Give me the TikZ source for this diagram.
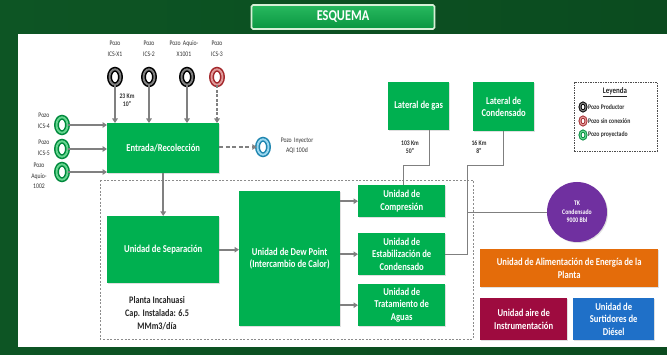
\documentclass[tikz,border=0pt]{standalone}
\usepackage{fontspec}
\setmainfont{Carlito}[FakeStretch=0.82]
\usetikzlibrary{arrows.meta,shapes.geometric,shadows}
\definecolor{bgdark}{HTML}{0B4B1F}
\definecolor{bgleft}{HTML}{0D5524}
\definecolor{gbox}{HTML}{00B050}
\definecolor{orangebox}{HTML}{E46C0A}
\definecolor{crimsonbox}{HTML}{9E0B3F}
\definecolor{bluebox}{HTML}{1F70C8}
\definecolor{tkpurple}{HTML}{7030A0}
\definecolor{arrgray}{HTML}{808080}
\definecolor{linegray}{HTML}{7F7F7F}
\definecolor{redring}{HTML}{A3272B}
\definecolor{redringl}{HTML}{E09A9A}
\definecolor{greenring}{HTML}{00893D}
\definecolor{greenringl}{HTML}{66D68F}
\definecolor{bluering}{HTML}{1F86B0}
\definecolor{blueringl}{HTML}{9BD8F0}
\definecolor{titletop}{HTML}{28B95F}
\definecolor{titlebot}{HTML}{0A9641}
\definecolor{titleborder}{HTML}{D7F0D7}
\tikzset{
  unitbox/.style={fill=gbox, text=white, font=\bfseries\fontsize{10.5}{12.5}\selectfont,
    align=center, inner sep=0pt, anchor=north west,
    drop shadow={opacity=0.25, shadow xshift=1pt, shadow yshift=-1pt}},
  ring/.style={ellipse, draw=black, line width=1.5pt, double=black!50, double distance=1.9pt,
    minimum width=11pt, minimum height=15.5pt, inner sep=0pt},
  smallring/.style={ellipse, draw=black, line width=0.9pt, double=black!50, double distance=1.1pt,
    minimum width=6pt, minimum height=8pt, inner sep=0pt},
  wlabel/.style={font=\fontsize{7}{11}\selectfont, text=black!80, align=center, inner sep=0pt},
  kmlabel/.style={font=\bfseries\fontsize{7}{8.5}\selectfont, text=black!80, align=center, inner sep=0pt},
  arr/.style={draw=arrgray, line width=1.8pt, -{Triangle[length=4.5pt,width=5.5pt]}},
  conn/.style={draw=linegray, line width=0.8pt},
}
\begin{document}
\begin{tikzpicture}[x=1pt,y=-1pt]
\useasboundingbox (0,0) rectangle (667,355);
\shade[left color=bgleft, right color=bgdark] (0,0) rectangle (667,355);
\fill[white] (18,34) rectangle (667,347);

% title
\node[top color=titletop, bottom color=titlebot,
  draw=titleborder, line width=1.6pt, rounded corners=1.5pt,
  minimum width=183pt, minimum height=24pt, text=white,
  font=\bfseries\fontsize{15}{16}\selectfont] (title) at (343,17) {ESQUEMA};

% plant boundary
\draw[draw=black!45, line width=0.7pt, dash pattern=on 2pt off 1.6pt] (100,180) rectangle (473,339);

% boxes
\node[unitbox, minimum width=112pt, minimum height=50pt] (entrada) at (107,123) {Entrada/Recolección};
\node[unitbox, minimum width=112pt, minimum height=67pt] (sep) at (107,216) {Unidad de Separación};
\node[unitbox, minimum width=101pt, minimum height=135pt] (dew) at (239,191) {Unidad de Dew Point\\(Intercambio de Calor)};
\node[unitbox, minimum width=87pt, minimum height=32pt] (comp) at (358,185) {Unidad de\\Compresión};
\node[unitbox, minimum width=87pt, minimum height=42pt] (estab) at (358,233) {Unidad de\\Estabilización de\\Condensado};
\node[unitbox, minimum width=87pt, minimum height=42pt] (trat) at (358,284) {Unidad de\\Tratamiento de\\Aguas};
\node[unitbox, minimum width=61pt, minimum height=48pt] (latgas) at (388,82) {Lateral de gas};
\node[unitbox, minimum width=61pt, minimum height=49pt] (latcond) at (473,82) {Lateral de\\Condensado};
\node[unitbox, fill=orangebox, minimum width=178pt, minimum height=38pt] (energia) at (480,249) {Unidad de Alimentación de Energía de la\\Planta};
\node[unitbox, fill=crimsonbox, minimum width=87pt, minimum height=42pt] (aire) at (480,298) {Unidad aire de\\Instrumentación};
\node[unitbox, fill=bluebox, minimum width=81pt, minimum height=42pt] (diesel) at (573,298) {Unidad de\\Surtidores de\\Diésel};
\node[circle, fill=tkpurple, minimum size=60pt, inner sep=0pt, text=white, align=center,
  font=\bfseries\fontsize{7}{8.5}\selectfont,
  drop shadow={opacity=0.25, shadow xshift=1pt, shadow yshift=-1pt}] (tk) at (577,212) {TK\\Condensado\\9000 Bbl};

% top wells
\node[ring] (x1) at (115,77) {};
\node[ring] (ics2) at (149,77) {};
\node[ring] (aqx) at (187,77) {};
\node[ring, draw=redring, double=redringl] (ics3) at (217,77) {};
\node[wlabel] (lx1) at (115,49) {Pozo\\ICS-X1};
\node[wlabel] (lics2) at (149,49) {Pozo\\ICS-2};
\node[wlabel] (laqx) at (184,49) {Pozo\, Aquio-\\X1001};
\node[wlabel] (lics3) at (217,49) {Pozo\\ICS-3};
\node[kmlabel] (km23) at (127,100) {23 Km\\10"};

\draw[arr] (x1) -- (x1 |- entrada.north);
\draw[arr] (ics2) -- (ics2 |- entrada.north);
\draw[arr] (aqx) -- (aqx |- entrada.north);
\draw[arr, dash pattern=on 3pt off 1.5pt] (ics3) -- (ics3 |- entrada.north);

% left wells
\node[ring, draw=greenring, double=greenringl] (ics4) at (62,125) {};
\node[ring, draw=greenring, double=greenringl] (ics5) at (62,149) {};
\node[ring, draw=greenring, double=greenringl] (aq1002) at (62,172) {};
\node[wlabel, anchor=east] (lics4) at (50,121) {Pozo\\ICS-4};
\node[wlabel, anchor=east] (lics5) at (50,148) {Pozo\\ICS-5};
\node[wlabel, font=\fontsize{7}{10.5}\selectfont] (laq1002) at (39,176) {Pozo\\Aquio-\\1002};
\draw[arr] (ics4) -- (ics4 -| entrada.west);
\draw[arr] (ics5) -- (ics5 -| entrada.west);
\draw[arr] (aq1002) -- (aq1002 -| entrada.west);

% injector
\node[ring, draw=bluering, double=blueringl] (inj) at (263,147) {};
\node[wlabel, font=\fontsize{7}{10}\selectfont] (linj) at (297,146) {Pozo\, Inyector\\AQI 100d};
\draw[arr, dash pattern=on 4pt off 2.5pt] (entrada.east |- inj) -- (inj);

% internal flows
\draw[arr] (entrada.south) -- (sep.north);
\draw[arr] (sep.east) -- (sep.east -| dew.west);
\draw[arr] (dew.east |- comp.west) -- (comp.west);
\draw[arr] (dew.east |- estab.west) -- (estab.west);
\draw[arr] (dew.east |- trat.west) -- (trat.west);

% laterals
\coordinate (gtop) at (429,130);
\coordinate (gbend) at (403,165);
\draw[conn] (gtop) |- (gbend) -- (gbend |- comp.north);
\node[kmlabel] (km103) at (410,147) {103 Km\\50"};
\coordinate (c1) at (467,165);
\coordinate (c3) at (467,212);
\draw[conn] (latcond.south) |- (c1) -- (c1 |- estab.east) -- (estab.east);
\draw[conn] (c3) -- (tk.west);
\node[kmlabel] (km16) at (479,147) {16 Km\\8"};

% plant label
\node[font=\bfseries\fontsize{10}{13}\selectfont, text=black!85, align=center] (planta) at (157,313) {Planta Incahuasi\\Cap. Instalada: 6.5\\MMm3/día};

% legend
\node[draw=black!70, line width=0.6pt, dash pattern=on 1.5pt off 1pt, anchor=north west,
  minimum width=83pt, minimum height=69pt, inner sep=0pt] (legend) at (574,82) {};
\node[font=\bfseries\fontsize{8.5}{9}\selectfont, text=black!85] (leytitle) at (615,92) {\underline{Leyenda}};
\node[smallring] (lr1) at (583,107) {};
\node[smallring, draw=redring, double=redringl] (lr2) at (583,121) {};
\node[smallring, draw=greenring, double=greenringl] (lr3) at (583,135) {};
\node[kmlabel, anchor=west] (lt1) at (588,107) {Pozo Productor};
\node[kmlabel, anchor=west] (lt2) at (588,121) {Pozo sin conexión};
\node[kmlabel, anchor=west] (lt3) at (588,135) {Pozo proyectado};
\end{tikzpicture}
\end{document}
